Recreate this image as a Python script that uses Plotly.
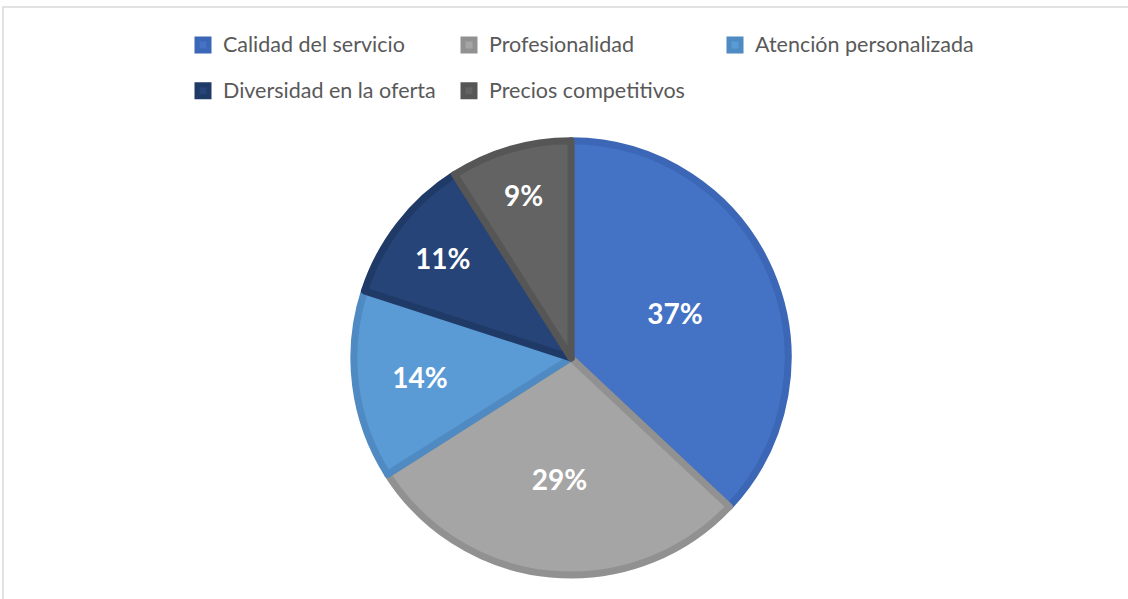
import plotly.graph_objects as go

# data
labels = [
    "Calidad del servicio",
    "Profesionalidad",
    "Atención personalizada",
    "Diversidad en la oferta",
    "Precios competitivos",
]
values = [37, 29, 14, 11, 9]

fill_colors = ["#4472C4", "#A5A5A5", "#5B9BD5", "#264478", "#636363"]
edge_colors = ["#3C66B6", "#919191", "#4F8AC2", "#203A67", "#565656"]

W, H = 1128, 599
ML, MR = 155, 155  # side margins keep the legend to three entries per row
PW = W - ML - MR


def px_x(x):
    # pixel column -> paper fraction
    return (x - ML) / PW


# legend rows in the reference are far apart, so the legend font is big
# and the visible label text is shrunk with an inline span
legend_labels = [
    "<span style='font-size:21.5px;baseline-shift:6px'>%s</span>" % s for s in labels
]

fig = go.Figure()
fig.add_trace(
    go.Pie(
        labels=legend_labels,
        values=values,
        sort=False,
        direction="clockwise",
        rotation=0,
        marker=dict(colors=fill_colors, line=dict(color=edge_colors, width=7)),
        texttemplate="%{percent:.0%}",
        textposition="inside",
        insidetextorientation="horizontal",
        insidetextfont=dict(family="Lato", size=28, color="white", weight="bold"),
        domain=dict(x=[px_x(351), px_x(791)], y=[0.04, 0.765]),
        hoverinfo="label+value+percent",
    )
)

# chart frame, cut by the window on the right and bottom
fig.add_shape(
    type="rect",
    xref="paper",
    yref="paper",
    x0=px_x(3),
    x1=px_x(W + 20),
    y0=-0.05,
    y1=1 - 7 / H,
    line=dict(color="#D9D9D9", width=1.5),
    fillcolor="rgba(0,0,0,0)",
)

fig.update_layout(
    width=W,
    height=H,
    margin=dict(l=ML, r=MR, t=0, b=0),
    paper_bgcolor="white",
    plot_bgcolor="white",
    showlegend=True,
    legend=dict(
        orientation="h",
        x=px_x(582),
        xanchor="center",
        y=1 - 17 / H,
        yanchor="top",
        entrywidth=221,
        bgcolor="rgba(0,0,0,0)",
        font=dict(family="Lato", size=33, color="#595959"),
        itemclick=False,
    ),
)

# the page body has a default 8px margin; drop it so the figure sits at 0,0
fig.write_html(
    "out.html",
    config={"displayModeBar": False},
    post_script="document.body.style.margin='0';",
)
